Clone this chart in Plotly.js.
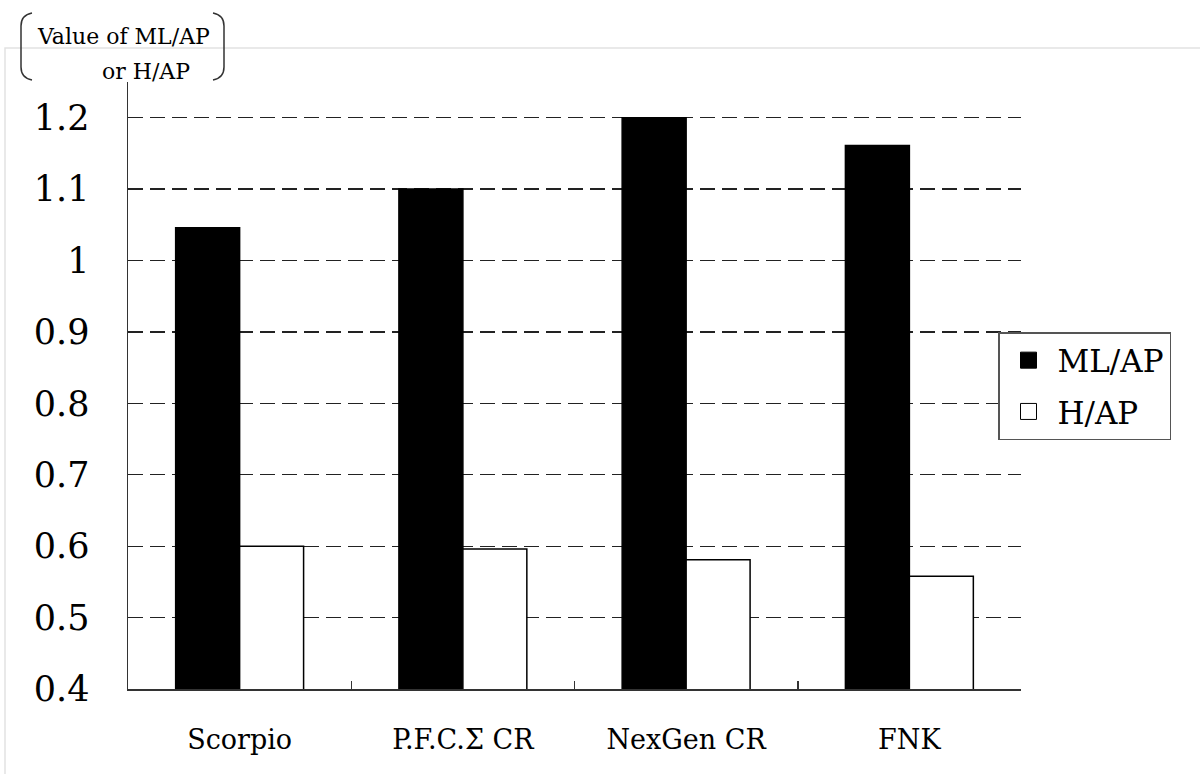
<!DOCTYPE html>
<html>
<head>
<meta charset="utf-8">
<script src="https://cdn.plot.ly/plotly-3.0.1.min.js"></script>
<style>
  html, body { margin: 0; padding: 0; background: #fff; }
  #chart { width: 1200px; height: 774px; }
</style>
</head>
<body>
<div id="chart"></div>
<script>
// ratio values per implant
const categories = ["Scorpio", "P.F.C.\u03A3 CR", "NexGen CR", "FNK"];
const mlAp = [1.046, 1.10, 1.20, 1.161];
const hAp = [0.60, 0.596, 0.581, 0.558];
const seriesNames = ["ML/AP", "H/AP"];

const serif = "DejaVu Serif, Liberation Serif, serif";

// plot area in pixels: left 128, right 1021, top 82, bottom 689
const L = 128, R = 1021, T = 82, B = 689;
function px(x) { return (x - L) / (R - L); }
function py(y) { return (B - y) / (B - T); }

const mlTrace = {
    x: categories,
    y: mlAp,
    type: "bar",
    name: seriesNames[0],
    showlegend: false,
    marker: {color: "#000", line: {color: "#000", width: 1.5}}
};

const hTrace = {
    x: categories,
    y: hAp,
    type: "bar",
    name: seriesNames[1],
    showlegend: false,
    marker: {color: "#fff", line: {color: "#000", width: 1.5}}
};

// legend entries with bigger square symbols than bar legends allow
const mlKey = {
    x: [categories[0]], y: [null],
    type: "scatter", mode: "markers",
    name: seriesNames[0], legendgroup: "a",
    marker: {symbol: "square", size: 16, color: "#000", line: {color: "#000", width: 1}}
};
const hKey = {
    x: [categories[0]], y: [null],
    type: "scatter", mode: "markers",
    name: seriesNames[1], legendgroup: "b",
    marker: {symbol: "square", size: 16, color: "#fff", line: {color: "#000", width: 1}}
};

const layout = {
    width: 1200,
    height: 774,
    margin: {l: L, r: 1200 - R, t: T, b: 774 - B},
    paper_bgcolor: "#fff",
    plot_bgcolor: "#fff",
    barmode: "group",
    bargap: 0.427,
    bargroupgap: 0,
    font: {family: serif, color: "#000"},
    xaxis: {
        type: "category",
        showline: true,
        linecolor: "#333",
        linewidth: 1.5,
        ticks: "inside",
        tickson: "boundaries",
        ticklen: 8,
        tickcolor: "#333",
        tickwidth: 1.5,
        showgrid: false,
        tickfont: {family: serif, size: 27, color: "#000"},
        ticklabelstandoff: 26
    },
    yaxis: {
        range: [0.4, 1.25],
        dtick: 0.1,
        tick0: 0.4,
        showline: true,
        linecolor: "#333",
        linewidth: 1.5,
        ticks: "",
        zeroline: false,
        showgrid: true,
        gridcolor: "#222",
        gridwidth: 1.3,
        griddash: "15px,7px",
        tickfont: {family: serif, size: 35, color: "#000"},
        ticklabelstandoff: 30
    },
    legend: {
        x: px(998),
        xanchor: "left",
        y: py(332),
        yanchor: "top",
        bgcolor: "#fff",
        bordercolor: "#555",
        borderwidth: 1.5,
        font: {family: serif, size: 31, color: "#000"},
        traceorder: "grouped",
        tracegroupgap: 8,
        itemwidth: 48
    },
    annotations: [
        {
            xref: "paper", yref: "paper",
            x: px(35), y: py(37),
            xanchor: "left", yanchor: "middle",
            text: "Value of ML/AP",
            showarrow: false,
            font: {family: serif, size: 22, color: "#000"}
        },
        {
            xref: "paper", yref: "paper",
            x: px(100), y: py(71),
            xanchor: "left", yanchor: "middle",
            text: "or H/AP",
            showarrow: false,
            font: {family: serif, size: 22, color: "#000"}
        }
    ],
    shapes: [
        // faint outer frame
        {
            type: "rect", xref: "paper", yref: "paper",
            x0: px(5), x1: px(1205), y0: py(790), y1: py(48),
            line: {color: "#e2e2e2", width: 1.5},
            layer: "below"
        },
        // brackets round the axis title
        {
            type: "path", xref: "paper", yref: "paper",
            path: "M" + px(32) + "," + py(13) + " Q" + px(21) + "," + py(15) + " " + px(21) + "," + py(26) +
                  " L" + px(21) + "," + py(67) + " Q" + px(21) + "," + py(78) + " " + px(32) + "," + py(80),
            line: {color: "#333", width: 1.5}
        },
        {
            type: "path", xref: "paper", yref: "paper",
            path: "M" + px(213) + "," + py(13) + " Q" + px(224) + "," + py(15) + " " + px(224) + "," + py(26) +
                  " L" + px(224) + "," + py(67) + " Q" + px(224) + "," + py(78) + " " + px(213) + "," + py(80),
            line: {color: "#333", width: 1.5}
        }
    ]
};

Plotly.newPlot("chart", [mlTrace, hTrace, mlKey, hKey], layout, {displayModeBar: false, staticPlot: true});
</script>
</body>
</html>
